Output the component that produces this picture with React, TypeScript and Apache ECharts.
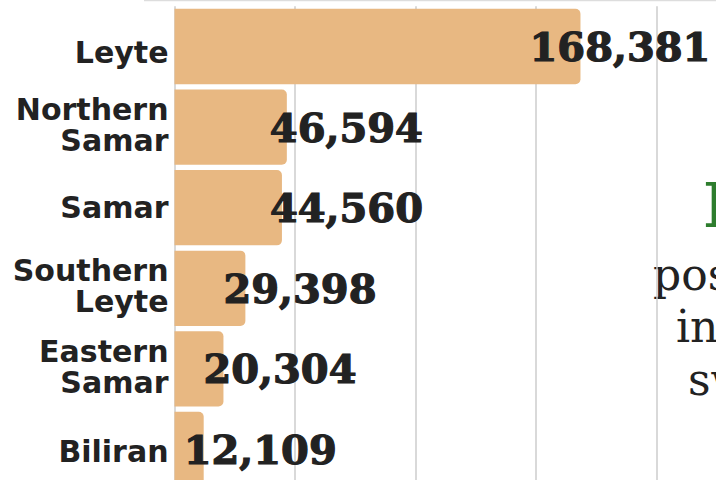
import React, { useEffect, useRef } from "react";
import * as echarts from "echarts";

const categories = ["Leyte", "Northern Samar", "Samar", "Southern Leyte", "Eastern Samar", "Biliran"];
const values = [168381, 46594, 44560, 29398, 20304, 12109];
const sideNoteTitle = "I";
const sideNoteLines = ["pos", "in", "sw"];

// styling tweaks (label nudges), not data
const valueLabelShift = [-51, -17, -12, -22, -20, -20];
const catLabelNudge = [6, -5, 0, -4, -3.5, 1.5];

export default function App() {
  const ref = useRef<HTMLDivElement>(null);
  useEffect(() => {
    if (!ref.current) return;
    const chart = echarts.init(ref.current, null, { renderer: "svg" });
    const baseText = {
      color: "#222222",
      fontFamily: "DejaVu Sans",
      fontWeight: "bold",
      fontSize: 30,
      lineHeight: 31,
      align: "right",
    };
    const rich: Record<string, any> = {};
    categories.forEach((c, i) => {
      const d = catLabelNudge[i];
      const lines = c.split(" ").length;
      let padding: number[];
      if (lines === 1) {
        padding = d >= 0 ? [2 * d, 0, 0, 0] : [0, 0, -2 * d, 0];
      } else {
        padding = d >= 0 ? [d, 0, 0, 0] : [0, 0, -d, 0];
      }
      rich["n" + i] = { ...baseText, padding };
    });
    chart.setOption({
      animation: false,
      grid: { left: 174.5, right: 59.3, top: 6.2, bottom: 10.2, containLabel: false },
      xAxis: {
        type: "value",
        min: 0,
        max: 200000,
        interval: 50000,
        axisLabel: { show: false },
        axisLine: { show: false },
        axisTick: { show: false },
        splitLine: { show: true, lineStyle: { color: "#cccccc", width: 1.5 } },
      },
      yAxis: {
        type: "category",
        inverse: true,
        data: categories,
        axisLine: { show: false },
        axisTick: { show: false },
        axisLabel: {
          margin: 6,
          ...baseText,
          rich,
          formatter: (v: string, i: number) =>
            v
              .split(" ")
              .map((w) => `{n${i}|${w}}`)
              .join("\n"),
        },
      },
      series: [
        {
          type: "bar",
          barWidth: 75.3,
          data: values.map((v, i) => ({
            value: v,
            label: { offset: [valueLabelShift[i], 0] },
          })),
          itemStyle: { color: "#e8b882", borderRadius: [0, 5, 5, 0] },
          label: {
            show: true,
            position: "right",
            distance: 0,
            color: "#222222",
            fontFamily: "DejaVu Serif",
            fontWeight: "bold",
            fontSize: 40,
            textBorderColor: "#222222",
            textBorderWidth: 1.2,
            formatter: (p: any) => Number(p.value).toLocaleString("en-US"),
          },
        },
      ],
      graphic: [
        {
          type: "line",
          shape: { x1: 144, y1: 0.5, x2: 716, y2: 0.5 },
          style: { stroke: "#dddddd", lineWidth: 1.5 },
        },
        {
          type: "text",
          x: 703,
          y: 205,
          style: {
            text: sideNoteTitle,
            fill: "#2e7d2e",
            font: "bold 62px 'DejaVu Serif'",
            textAlign: "left",
            textVerticalAlign: "middle",
          },
        },
        ...sideNoteLines.map((t, i) => ({
          type: "text",
          x: [653, 676, 688][i],
          y: 274 + i * 52.5,
          style: {
            text: t,
            fill: "#222222",
            font: "44px 'DejaVu Serif'",
            textAlign: "left",
            textVerticalAlign: "middle",
          },
        })),
      ],
    });
    return () => chart.dispose();
  }, []);
  return (
    <div
      ref={ref}
      style={{ position: "fixed", left: 0, top: 0, width: 716, height: 500, background: "#ffffff" }}
    />
  );
}
